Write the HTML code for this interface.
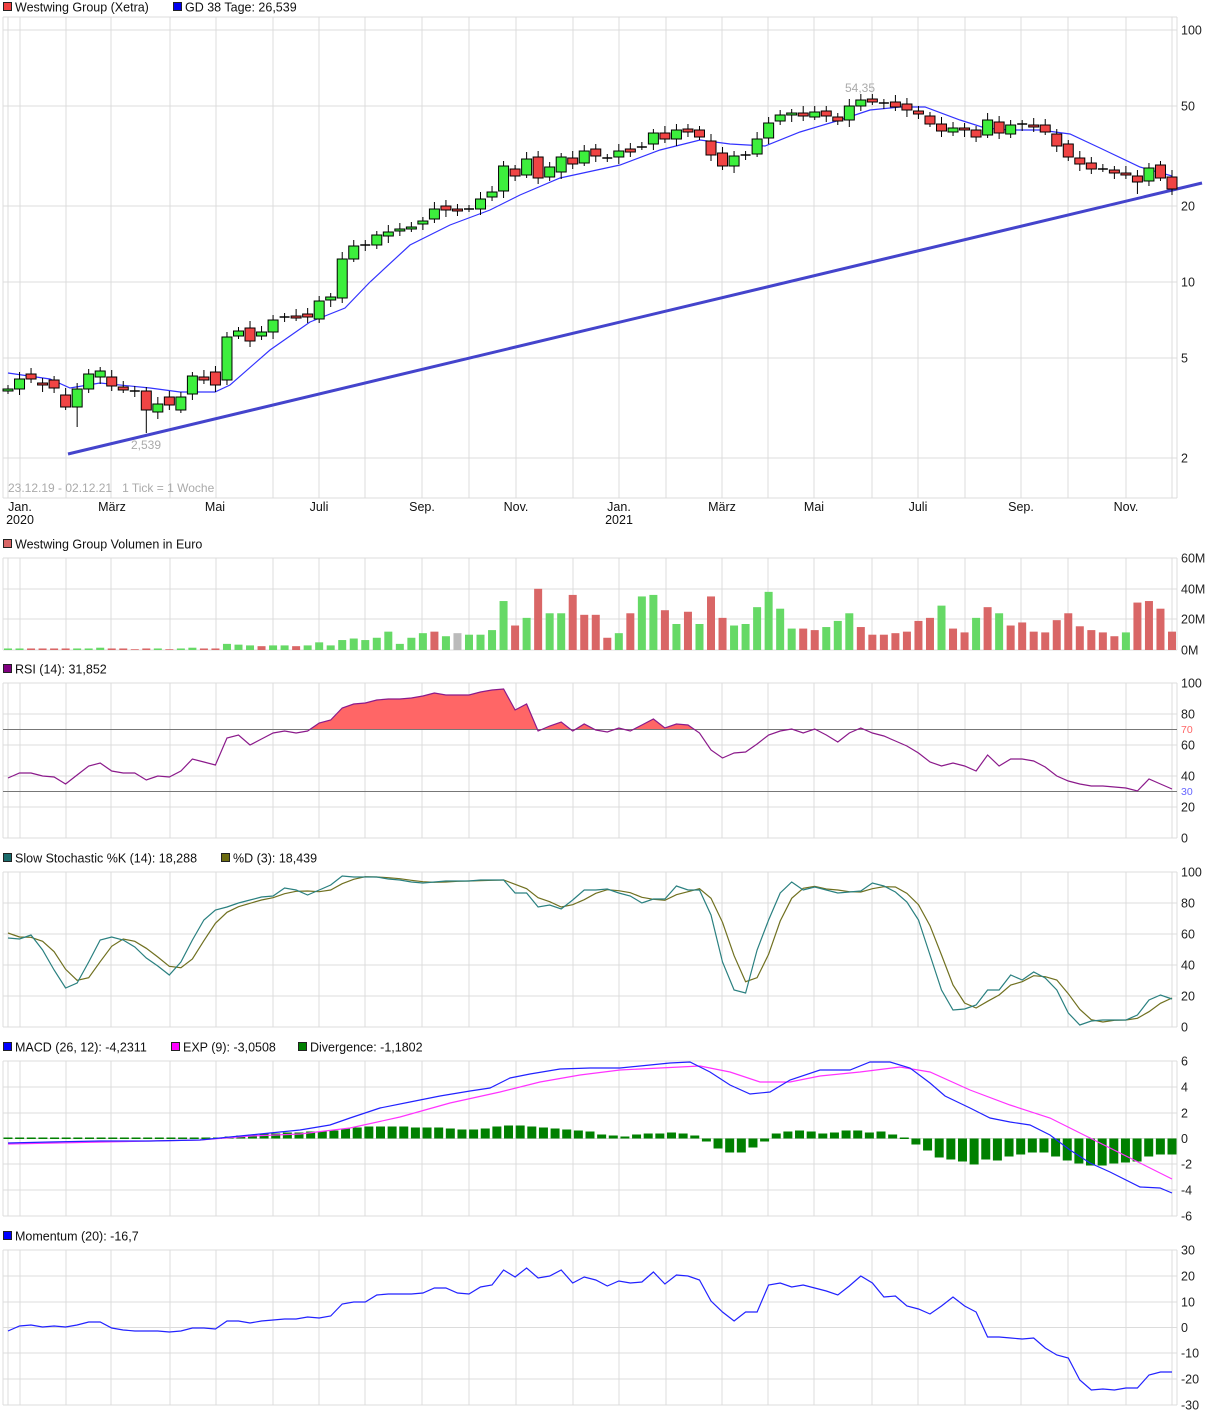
<!DOCTYPE html>
<html><head><meta charset="utf-8">
<style>
html,body{margin:0;padding:0;background:#fff;}
svg{display:block;font-family:"Liberation Sans",sans-serif;}
</style></head>
<body>
<svg id="c" width="1226" height="1418" xmlns="http://www.w3.org/2000/svg"></svg>
<script>
var S=document.getElementById('c');var out=[];
function add(s){out.push(s);}
var vx=[3,8,20,66,111,170,216,273,319,365,422,469,516,573,619,666,722,768,814,872,918,965,1021,1068,1126,1172,1177];
function panel(top,bot,hy){
  vx.forEach(function(x){add('<line x1="'+x+'" y1="'+top+'" x2="'+x+'" y2="'+bot+'" stroke="#dcdcdc" stroke-width="1"/>');});
  hy.forEach(function(y){add('<line x1="3" y1="'+y+'" x2="1177" y2="'+y+'" stroke="#dcdcdc" stroke-width="1"/>');});
  add('<line x1="3" y1="'+top+'" x2="1177" y2="'+top+'" stroke="#dcdcdc"/>');
  add('<line x1="3" y1="'+bot+'" x2="1177" y2="'+bot+'" stroke="#dcdcdc"/>');
}
function lab(y,t,col){add('<text x="1181" y="'+(y+4.5)+'" font-size="12.5" fill="'+(col||'#222')+'">'+t+'</text>');}
function leg(x,y,col,t){add('<rect x="'+(x+0.5)+'" y="'+(y-4.5)+'" width="8" height="8" fill="'+col+'" stroke="#222" stroke-width="1"/><text x="'+(x+12)+'" y="'+(y+4.5)+'" font-size="12.5" fill="#111">'+t+'</text>');}
function poly(pts,col,w){add('<polyline fill="none" stroke="'+col+'" stroke-width="'+(w||1)+'" points="'+pts.map(function(p){return p[0]+','+p[1];}).join(' ')+'"/>');}
function mk(n){return function(i){return 8+i*1164/(n-1);};}

// ===== main
leg(3,7,'#f04040','Westwing Group (Xetra)');leg(173,7,'#0000ee','GD 38 Tage: 26,539');
panel(17,498,[30,106,206,282,358,458]);
[[30,'100'],[106,'50'],[206,'20'],[282,'10'],[358,'5'],[458,'2']].forEach(function(a){lab(a[0],a[1]);});
add('<text x="8" y="492" font-size="12" fill="#aaa">23.12.19 - 02.12.21 &#160; 1 Tick = 1 Woche</text>');
add('<text x="845" y="92" font-size="12" fill="#aaa">54,35</text>');
add('<text x="131" y="449" font-size="12" fill="#aaa">2,539</text>');
[[20,'Jan.'],[112,'März'],[215,'Mai'],[319,'Juli'],[422,'Sep.'],[516,'Nov.'],[619,'Jan.'],[722,'März'],[814,'Mai'],[918,'Juli'],[1021,'Sep.'],[1126,'Nov.']].forEach(function(a){add('<text x="'+a[0]+'" y="511" font-size="12.5" text-anchor="middle" fill="#111">'+a[1]+'</text>');});
add('<text x="20" y="524" font-size="12.5" text-anchor="middle" fill="#111">2020</text>');
add('<text x="619" y="524" font-size="12.5" text-anchor="middle" fill="#111">2021</text>');
add('<line x1="68" y1="454" x2="1202" y2="183" stroke="#4444cc" stroke-width="3"/>');
poly([[8,373],[50,379],[70,388],[100,383],[150,388],[180,392],[215,392],[230,385],[270,350],[310,322],[345,308],[370,282],[410,245],[450,225],[490,210],[520,195],[560,178],[620,165],[660,150],[700,140],[730,144],[765,146],[800,132],[840,120],[870,110],[900,107],[925,107],[960,120],[985,128],[1010,130],[1040,130],[1070,134],[1100,148],[1140,167],[1172,176]],'#3333ff',1.2);
var C=[[389,391,'g'],[379,389,'g'],[374,379,'r'],[383,385,'r'],[380,388,'r'],[395,407,'r'],[389,407,'g'],[374,389,'g'],[371,377,'g'],[377,386,'r'],[387,390,'r'],[391,391,'d'],[391,410,'r'],[404,412,'g'],[397,405,'r'],[397,410,'g'],[376,394,'g'],[377,380,'r'],[372,385,'r'],[337,380,'g'],[331,336,'g'],[328,341,'r'],[332,336,'g'],[320,332,'g'],[317,317,'d'],[316,318,'r'],[314,317,'r'],[301,319,'g'],[297,300,'g'],[259,298,'g'],[246,259,'g'],[245,245,'d'],[235,245,'g'],[232,236,'g'],[229,231,'g'],[227,229,'g'],[221,224,'g'],[209,219,'g'],[206,210,'r'],[209,211,'r'],[209,209,'d'],[199,209,'g'],[192,197,'g'],[166,191,'g'],[169,176,'r'],[159,175,'g'],[157,178,'r'],[167,177,'g'],[157,172,'g'],[158,164,'r'],[151,163,'g'],[149,156,'r'],[158,158,'d'],[151,157,'g'],[149,152,'r'],[147,147,'d'],[133,144,'g'],[133,139,'r'],[130,139,'g'],[129,132,'r'],[130,137,'r'],[141,155,'r'],[153,166,'r'],[156,166,'g'],[155,155,'d'],[139,154,'g'],[123,138,'g'],[115,121,'g'],[113,115,'g'],[113,116,'r'],[112,117,'g'],[111,116,'r'],[117,121,'r'],[106,120,'g'],[100,106,'g'],[99,102,'r'],[103,103,'d'],[102,107,'r'],[104,110,'r'],[111,114,'r'],[116,124,'r'],[124,131,'r'],[128,132,'g'],[128,130,'r'],[130,137,'r'],[120,135,'g'],[122,133,'r'],[125,134,'g'],[124,124,'d'],[125,127,'r'],[125,132,'r'],[134,146,'r'],[144,157,'r'],[158,164,'r'],[163,169,'r'],[169,169,'d'],[170,173,'r'],[173,175,'r'],[176,182,'r'],[168,181,'g'],[165,178,'r'],[177,189,'r']];
var cx=mk(C.length);
C.forEach(function(c,i){var x=cx(i),t=c[0],b=c[1];var up=4+((i*7)%4),dn=3+((i*3)%5);if(i==12)dn=23;if(i==6)dn=20;if(i==C.length-4)dn=12;
 add('<line x1="'+x+'" y1="'+(t-up)+'" x2="'+x+'" y2="'+(b+dn)+'" stroke="#000" stroke-width="1"/>');
 if(c[2]=='d'){add('<line x1="'+(x-5)+'" y1="'+t+'" x2="'+(x+5)+'" y2="'+t+'" stroke="#000" stroke-width="1.5"/>');}
 else add('<rect x="'+(x-5)+'" y="'+t+'" width="10" height="'+Math.max(b-t,2)+'" fill="'+(c[2]=='g'?'#3def3d':'#f04444')+'" stroke="#000" stroke-width="1"/>');
});

// ===== volume
leg(3,544,'#d96666','Westwing Group Volumen in Euro');
panel(558,650,[589,619]);
[[558,'60M'],[589,'40M'],[619,'20M'],[650,'0M']].forEach(function(a){lab(a[0],a[1]);});
var V=[1,1,1,1,1,1,1,1,1.5,1,1,.5,1,1,.5,1,1.5,1,1,4,3.5,3,2.5,3,3,2.5,3,5,3,6.5,7.5,6.5,8,12,4,8,11,12,9,11,10,10,13,32,16,21,40,24,24,36,23,23,8,11,24,35,36,26,17,25,17,35,21,16,17,28,38,27,14,14,13,15,19,24,15,10,10,11,12,19,21,29,14,11.5,21,28,24,16,18,12,11.5,19.5,24,15.5,13,11.5,9,11.5,31,32,27,12];
var VC='ggrrrrgggrrrrgrggrrgggrggrgggggggggggrgxggggrgrggrrrrgrggrgrgrrggggggrrgggrrrrrrrgrrgrgrrrrrrrrrrgrr';
var vxf=mk(V.length);
V.forEach(function(v,i){var h=v*1.53;var c=VC[i]=='g'?'#66d966':(VC[i]=='x'?'#bbbbbb':'#d96666');add('<rect x="'+(vxf(i)-4)+'" y="'+(650-h)+'" width="8" height="'+h+'" fill="'+c+'"/>');});

// ===== RSI
leg(3,669,'#800080','RSI (14): 31,852');
panel(683,838,[714,745,776,807]);
[[683,'100'],[714,'80'],[745,'60'],[776,'40'],[807,'20'],[838,'0']].forEach(function(a){lab(a[0],a[1]);});
add('<text x="1181" y="733" font-size="10.5" fill="#ff6666">70</text><text x="1181" y="795" font-size="10.5" fill="#6666ff">30</text>');
var R=[778,773,773,776,777,784,775,766,763,771,773,773,780,776,777,771,759,762,765,738,735,745,739,733,731,733,731,723,720,708,704,703,700,699,699,698,696,693,695,695,695,692,690,689,710,704,731,726,722,731,724,730,732,728,731,725,719,728,724,725,733,750,758,753,752,744,735,731,729,733,729,735,742,733,728,733,736,741,746,753,762,766,763,766,771,755,766,759,759,761,767,776,781,784,786,786,787,788,791,779,784,789];
var rx=mk(R.length);
var rp=R.map(function(y,i){return [rx(i).toFixed(1),y];});
add('<defs><clipPath id="ob"><rect x="0" y="683" width="1177" height="46.5"/></clipPath></defs>');
add('<polygon clip-path="url(#ob)" fill="#ff6666" points="8,729.5 '+rp.map(function(p){return p[0]+','+p[1];}).join(' ')+' 1172,729.5"/>');
add('<line x1="3" y1="729.5" x2="1177" y2="729.5" stroke="#777" stroke-width="1"/>');
add('<line x1="3" y1="791.5" x2="1177" y2="791.5" stroke="#777" stroke-width="1"/>');
poly(rp,'#8b1a8b',1.2);

// ===== Stochastic
leg(3,858,'#1a6b6b','Slow Stochastic %K (14): 18,288');leg(221,858,'#6b6b10','%D (3): 18,439');
panel(872,1027,[903,934,965,996]);
[[872,'100'],[903,'80'],[934,'60'],[965,'40'],[996,'20'],[1027,'0']].forEach(function(a){lab(a[0],a[1]);});
var K=[938,939,935,950,970,988,983,962,940,937,940,947,958,966,975,962,940,920,910,907,903,900,897,896,888,890,895,890,885,876,877,877,877,879,880,882,883,882,881,881,881,880,880,880,893,893,907,905,909,900,890,890,889,893,896,903,899,899,886,890,890,915,962,990,993,950,920,893,882,890,887,890,893,892,891,883,886,892,902,920,955,990,1010,1009,1005,990,990,975,980,972,978,990,1013,1025,1021,1020,1020,1020,1015,1000,995,999];
var kx=mk(K.length);
var D=K.map(function(y,i){var a=K[Math.max(0,i-1)],b=K[Math.max(0,i-2)];return (y+a+b)/3;});D[0]=933;D[1]=937;
poly(D.map(function(y,i){return [kx(i).toFixed(1),y.toFixed(1)];}),'#707020',1.2);
poly(K.map(function(y,i){return [kx(i).toFixed(1),y];}),'#2a8080',1.2);

// ===== MACD
leg(3,1047,'#0000ff','MACD (26, 12): -4,2311');leg(171,1047,'#ff00ff','EXP (9): -3,0508');leg(298,1047,'#008000','Divergence: -1,1802');
panel(1061,1216,[1087,1113,1138.5,1164,1190]);
[[1061,'6'],[1087,'4'],[1113,'2'],[1138.5,'0'],[1164,'-2'],[1190,'-4'],[1216,'-6']].forEach(function(a){lab(a[0],a[1]);});
var DV=[1,1,1,1,1,1,1,1,1,1,1,1,1,1,1,1,1,1,1,2,3,4,5,5,6,6,7,7,8,10,11,12,12,12,12,11,11,11,10,9,9,10,12,13,13,12,11,10,9,8,7,4,3,2,4,5,5,6,5,3,-3,-10,-14,-14,-9,-3,5,7,8,7,5,6,8,8,6,7,4,1,-6,-12,-19,-21,-23,-26,-21,-22,-18,-16,-14,-14,-18,-22,-25,-27,-27,-25,-24,-23,-18,-16,-16];
var dx=mk(DV.length);
DV.forEach(function(v,i){var y=v>0?1138.5-v:1138.5;add('<rect x="'+(dx(i)-4.5)+'" y="'+y+'" width="9" height="'+Math.max(Math.abs(v),1.5)+'" fill="#008000"/>');});
poly([[8,1144],[200,1140],[250,1136],[300,1134],[350,1128],[400,1117],[450,1103],[500,1092],[540,1082],[580,1075],[620,1070],[660,1068],[700,1066],[730,1072],[760,1082],[790,1082],[820,1076],[860,1072],[900,1067],[930,1072],[970,1090],[1010,1105],[1050,1118],[1090,1138],[1130,1158],[1172,1179]],'#ff33ff',1.2);
poly([[8,1143],[50,1142],[100,1141],[150,1141],[200,1140],[230,1137],[270,1133],[300,1130],[330,1125],[350,1118],[380,1108],[410,1102],[440,1096],[470,1091],[490,1088],[510,1078],[530,1074],[560,1069],[590,1068],[620,1068],[650,1065],[670,1063],[690,1062],[710,1072],[730,1085],[750,1094],[770,1092],[790,1080],[820,1070],[850,1070],[870,1062],[890,1062],[910,1068],[930,1083],[945,1096],[970,1108],[990,1118],[1010,1122],[1030,1125],[1050,1135],[1070,1150],[1090,1163],[1110,1172],[1140,1187],[1160,1188],[1172,1193]],'#2222ff',1.2);

// ===== Momentum
leg(3,1236,'#0000ff','Momentum (20): -16,7');
panel(1250,1405,[1276,1302,1327.5,1353,1379]);
[[1250,'30'],[1276,'20'],[1302,'10'],[1327.5,'0'],[1353,'-10'],[1379,'-20'],[1405,'-30']].forEach(function(a){lab(a[0],a[1]);});
var M=[1331,1326,1325,1327,1326,1327,1325,1322,1322,1328,1330,1331,1331,1331,1332,1331,1328,1328,1329,1321,1321,1323,1321,1320,1319,1319,1317,1318,1316,1304,1302,1302,1295,1294,1294,1294,1293,1288,1288,1293,1294,1287,1285,1270,1277,1268,1278,1276,1270,1283,1277,1280,1286,1281,1283,1282,1272,1284,1275,1276,1280,1301,1312,1321,1312,1312,1285,1283,1287,1285,1288,1291,1295,1286,1276,1283,1297,1296,1306,1309,1314,1306,1297,1306,1312,1337,1337,1338,1339,1338,1348,1355,1358,1380,1390,1389,1390,1388,1388,1375,1372,1372];
var mx=mk(M.length);
poly(M.map(function(y,i){return [mx(i).toFixed(1),y];}),'#2222ff',1.2);

S.innerHTML=out.join('');
</script>
</body></html>
